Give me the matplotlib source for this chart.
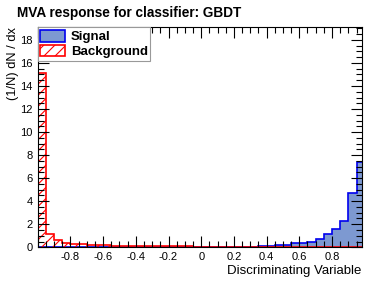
import numpy as np
import matplotlib
matplotlib.use('Agg')
import matplotlib.pyplot as plt
from matplotlib.patches import Patch
from matplotlib.ticker import MultipleLocator

plt.rcParams['font.family'] = ['Liberation Sans', 'DejaVu Sans']
plt.rcParams['hatch.linewidth'] = 0.8

# 40 bins between -1 and 1
bin_lo, bin_hi, n_bins = -1.0, 1.0, 40
signal = [0.01, 0.01, 0.01, 0.01, 0.01, 0.01, 0.01, 0.01, 0.01, 0.01,
          0.01, 0.01, 0.01, 0.01, 0.01, 0.01, 0.01, 0.02, 0.02, 0.02,
          0.02, 0.03, 0.03, 0.04, 0.04, 0.05, 0.06, 0.08, 0.15, 0.18,
          0.20, 0.33, 0.36, 0.50, 0.75, 1.12, 1.55, 2.28, 4.68, 7.42]
background = [15.1, 1.15, 0.62, 0.38, 0.28, 0.26, 0.22, 0.20, 0.18, 0.15,
              0.14, 0.12, 0.10, 0.10, 0.09, 0.08, 0.08, 0.07, 0.07, 0.06,
              0.06, 0.05, 0.05, 0.04, 0.04, 0.04, 0.03, 0.03, 0.03, 0.03,
              0.02, 0.02, 0.02, 0.02, 0.02, 0.01, 0.01, 0.01, 0.01, 0.01]

sig_fill = '#7d99d1'
sig_line = '#0000ee'
bkg_line = '#ff0000'

edges = np.linspace(bin_lo, bin_hi, n_bins + 1)

fig = plt.figure(figsize=(3.81, 2.81), dpi=100)
ax = fig.add_axes([0.099, 0.12, 0.85, 0.783])

ax.stairs(signal, edges, fill=True, facecolor=sig_fill, linewidth=0)
ax.stairs(signal, edges, color=sig_line, linewidth=1.2)
ax.stairs(background, edges, fill=True, facecolor='none', edgecolor=bkg_line,
          hatch='///', linewidth=0)
ax.stairs(background, edges, color=bkg_line, linewidth=1.2)

ax.set_xlim(-1.0, 0.981)
ax.set_ylim(0, 19.1)

ax.xaxis.set_major_locator(MultipleLocator(0.2))
ax.xaxis.set_minor_locator(MultipleLocator(0.05))
ax.yaxis.set_major_locator(MultipleLocator(2))
ax.yaxis.set_minor_locator(MultipleLocator(0.5))
ax.tick_params(which='both', direction='in', top=True, right=True, labelsize=8)
ax.tick_params(which='major', length=8, width=0.8)
ax.tick_params(which='minor', length=4, width=0.8)


def xfmt(v, p):
    if v < -0.99:
        return ''
    if abs(v) < 1e-9:
        return '0'
    return '%g' % v


ax.xaxis.set_major_formatter(plt.FuncFormatter(xfmt))
for s in ax.spines.values():
    s.set_linewidth(0.8)

ax.set_xlabel('Discriminating Variable', fontsize=9.5, loc='right', labelpad=2)
ax.set_ylabel('(1/N) dN / dx', fontsize=9.3, loc='top')
ax.yaxis.set_label_coords(-0.058, 1.0)

handles = [Patch(facecolor=sig_fill, edgecolor=sig_line, linewidth=1.2, label='Signal'),
           Patch(facecolor='white', edgecolor=bkg_line, hatch='///', linewidth=1.2, label='Background')]
leg = ax.legend(handles=handles, loc='upper left', bbox_to_anchor=(0, 1), borderaxespad=0,
                prop={'weight': 'bold', 'size': 9.5}, fancybox=False, framealpha=1,
                edgecolor='#999999', handlelength=1.9, handleheight=1.0,
                borderpad=0.2, labelspacing=0.1, handletextpad=0.4)
leg.get_frame().set_linewidth(0.8)

fig.text(0.045, 0.955, 'MVA response for classifier: GBDT', fontsize=9.8,
         fontweight='bold', ha='left', va='center')

fig.savefig('out.png', dpi=100)
